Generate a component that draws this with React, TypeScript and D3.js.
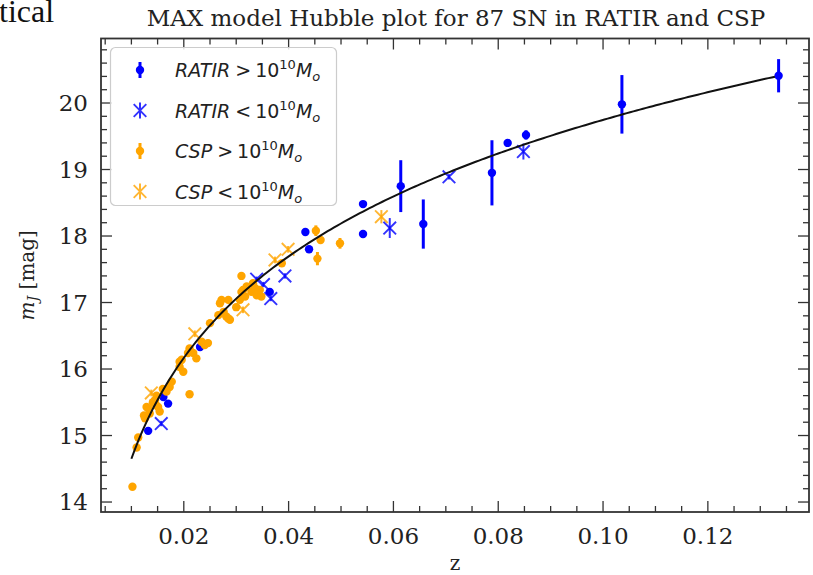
import React from "react";
import * as d3 from "d3";

// RATIR, host mass > 1e10 Msun (filled circles with error bars)
const ratirHiZ = [0.0132, 0.0161, 0.0170, 0.0231, 0.0364, 0.0432, 0.0439, 0.0542, 0.0542, 0.0614, 0.0657, 0.0788, 0.0818, 0.0853, 0.1036, 0.1335];
const ratirHiM = [15.07, 15.58, 15.48, 16.33, 17.16, 18.06, 17.80, 18.48, 18.03, 18.75, 18.18, 18.95, 19.40, 19.52, 19.98, 20.41];
const ratirHiErr = [0.05, 0.05, 0.05, 0.05, 0.05, 0.04, 0.04, 0.04, 0.04, 0.39, 0.37, 0.49, 0.04, 0.07, 0.44, 0.25];

// RATIR, host mass < 1e10 Msun (crosses)
const ratirLoZ = [0.0157, 0.0339, 0.0352, 0.0366, 0.0393, 0.0593, 0.0706, 0.0848];
const ratirLoM = [15.18, 17.35, 17.27, 17.06, 17.40, 18.12, 18.89, 19.27];
const ratirLoErr = [0.04, 0.04, 0.04, 0.04, 0.04, 0.15, 0.04, 0.12];

// CSP, host mass > 1e10 Msun
const cspHiZ = [
  0.0102, 0.0110, 0.0113, 0.0126, 0.0129, 0.0135, 0.0145, 0.0151, 0.0154, 0.0167,
  0.0173, 0.0177, 0.0192, 0.0192, 0.0196, 0.0199, 0.0208, 0.0211, 0.0211, 0.0218,
  0.0224, 0.0234, 0.0246, 0.0250, 0.0266, 0.0269, 0.0272, 0.0281, 0.0285, 0.0288,
  0.0285, 0.0307, 0.0310, 0.0310, 0.0313, 0.0317, 0.0320, 0.0329, 0.0332, 0.0339,
  0.0345, 0.0348, 0.0387, 0.0452, 0.0455, 0.0461, 0.0498, 0.0141, 0.0148, 0.0160,
  0.0133, 0.0147, 0.0124, 0.0300, 0.0276, 0.0240, 0.0336,
];
const cspHiM = [
  14.23, 14.82, 14.97, 15.26, 15.43, 15.33, 15.53, 15.43, 15.36, 15.66,
  15.73, 15.81, 16.11, 16.03, 16.14, 15.96, 16.24, 16.31, 15.62, 16.24,
  16.16, 16.41, 16.39, 16.69, 16.81, 16.99, 17.04, 16.79, 16.76, 16.74,
  17.04, 17.04, 17.40, 17.16, 17.19, 17.09, 17.24, 17.16, 17.29, 17.11,
  17.19, 17.09, 17.59, 18.08, 17.66, 17.94, 17.89, 15.50, 15.60, 15.70,
  15.40, 15.46, 15.30, 16.93, 16.86, 16.36, 17.22,
];
const cspHiErr = [
  0.05, 0.05, 0.05, 0.05, 0.05, 0.05, 0.05, 0.05, 0.05, 0.05,
  0.05, 0.05, 0.05, 0.05, 0.05, 0.05, 0.05, 0.05, 0.05, 0.05,
  0.05, 0.05, 0.05, 0.05, 0.05, 0.05, 0.05, 0.05, 0.05, 0.05,
  0.05, 0.05, 0.05, 0.05, 0.05, 0.05, 0.05, 0.05, 0.05, 0.05,
  0.05, 0.05, 0.05, 0.08, 0.10, 0.05, 0.08, 0.05, 0.05, 0.05,
  0.05, 0.05, 0.05, 0.05, 0.05, 0.05, 0.05,
];

// CSP, host mass < 1e10 Msun
const cspLoZ = [0.0138, 0.0221, 0.0313, 0.0374, 0.0399, 0.0577];
const cspLoM = [15.64, 16.53, 16.89, 17.64, 17.80, 18.29];
const cspLoErr = [0.05, 0.05, 0.05, 0.05, 0.05, 0.10];

// Hubble-law model: m = ZP + 5 log10( z (1 + A z) )
const MODEL_ZP = 24.64;
const MODEL_A = 0.5;
const MODEL_Z_RANGE = [0.0100, 0.1328];

const xTickValues = [0.02, 0.04, 0.06, 0.08, 0.10, 0.12];
const xTickLabels = ["0.02", "0.04", "0.06", "0.08", "0.10", "0.12"];
const yTickValues = [14, 15, 16, 17, 18, 19, 20];
const yTickLabels = ["14", "15", "16", "17", "18", "19", "20"];

const TITLE = "MAX model Hubble plot for 87 SN in RATIR and CSP";

const W = 813;
const H = 575;
const L = 101, R = 809, T = 38.5, B = 512;

const BLUE = "#0000ff";
const ORANGE = "#ffa500";
const SERIF = "'DejaVu Serif', serif";
const SANS = "'DejaVu Sans', sans-serif";
const DOT_R = 4.2;

const x = d3.scaleLinear().domain([0.0042, 0.1393]).range([L, R]);
const y = d3.scaleLinear().domain([13.85, 20.97]).range([B, T]);

function zip(zs: number[], ms: number[], es: number[]) {
  return zs.map((z, i) => ({ z, m: ms[i], e: es[i] }));
}

const ratirHi = zip(ratirHiZ, ratirHiM, ratirHiErr);
const ratirLo = zip(ratirLoZ, ratirLoM, ratirLoErr);
const cspHi = zip(cspHiZ, cspHiM, cspHiErr);
const cspLo = zip(cspLoZ, cspLoM, cspLoErr);

const modelZ = d3.range(MODEL_Z_RANGE[0], MODEL_Z_RANGE[1] + 1e-9, (MODEL_Z_RANGE[1] - MODEL_Z_RANGE[0]) / 200);
const modelLine = d3
  .line<number>()
  .x((z) => x(z))
  .y((z) => y(MODEL_ZP + 5 * Math.log10(z * (1 + MODEL_A * z))));

type Pt = { z: number; m: number; e: number };

function ErrBars({ data, color, width }: { data: Pt[]; color: string; width: number }) {
  return (
    <g stroke={color} strokeWidth={width}>
      {data.map((d, i) => (
        <line key={i} x1={x(d.z)} x2={x(d.z)} y1={y(d.m - d.e)} y2={y(d.m + d.e)} />
      ))}
    </g>
  );
}

function Dots({ data, color }: { data: Pt[]; color: string }) {
  return (
    <g fill={color}>
      {data.map((d, i) => (
        <circle key={i} cx={x(d.z)} cy={y(d.m)} r={DOT_R} />
      ))}
    </g>
  );
}

function Cross({ cx, cy, color, s = 6.3 }: { cx: number; cy: number; color: string; s?: number }) {
  return (
    <path
      d={`M${cx - s},${cy - s}L${cx + s},${cy + s}M${cx - s},${cy + s}L${cx + s},${cy - s}`}
      stroke={color}
      strokeWidth={1.9}
      fill="none"
    />
  );
}

function Crosses({ data, color }: { data: Pt[]; color: string }) {
  return (
    <g opacity={0.8}>
      {data.map((d, i) => (
        <Cross key={i} cx={x(d.z)} cy={y(d.m)} color={color} />
      ))}
    </g>
  );
}

function MathLabel({ name, rel, xPos, yPos }: { name: string; rel: string; xPos: number; yPos: number }) {
  return (
    <text x={xPos} y={yPos} fontFamily={SANS} fontSize={19} fill="#222">
      <tspan fontStyle="italic">{name}</tspan>
      <tspan dx={5}>{rel}</tspan>
      <tspan dx={4}>10</tspan>
      <tspan fontSize={13} dy={-8}>10</tspan>
      <tspan fontStyle="italic" dy={8}>M</tspan>
      <tspan fontStyle="italic" fontSize={13} dy={4}>o</tspan>
    </text>
  );
}

export default function App() {
  const xMinor = d3.range(0.005, 0.1393, 0.005).filter((v) => xTickValues.every((t) => Math.abs(t - v) > 1e-6));
  const yMinor = d3.range(14, 21.0, 0.2).filter((v) => v < 20.97 && Math.abs(v - Math.round(v)) > 1e-6);
  const MAJ = 11;
  const MIN = 6;
  const tickColor = "#333";

  const legendRows = [
    { name: "RATIR", rel: ">", color: BLUE, kind: "dot" },
    { name: "RATIR", rel: "<", color: BLUE, kind: "x" },
    { name: "CSP", rel: ">", color: ORANGE, kind: "dot" },
    { name: "CSP", rel: "<", color: ORANGE, kind: "x" },
  ];

  return (
    <svg
      width={W}
      height={H}
      viewBox={`0 0 ${W} ${H}`}
      style={{ position: "absolute", left: 0, top: 0, background: "#fff" }}
    >
      <rect width={W} height={H} fill="#fff" />
      <text x={-1} y={22} fontFamily="'Liberation Serif', serif" fontSize={32} fill="#111">tical</text>

      <text x={(L + R) / 2 + 1} y={26} textAnchor="middle" fontFamily={SERIF} fontSize={23} fill="#222">
        {TITLE}
      </text>

      {/* data */}
      <ErrBars data={ratirHi} color={BLUE} width={3} />
      <Dots data={ratirHi} color={BLUE} />
      <g opacity={0.8}>
        <ErrBars data={ratirLo} color={BLUE} width={2} />
      </g>
      <Crosses data={ratirLo} color={BLUE} />
      <ErrBars data={cspHi} color={ORANGE} width={3} />
      <Dots data={cspHi} color={ORANGE} />
      <g opacity={0.8}>
        <ErrBars data={cspLo} color={ORANGE} width={2} />
      </g>
      <Crosses data={cspLo} color={ORANGE} />

      <path d={modelLine(modelZ) || ""} fill="none" stroke="#111" strokeWidth={2} />

      {/* frame */}
      <rect x={L} y={T} width={R - L} height={B - T} fill="none" stroke="#333" strokeWidth={1.8} />

      {/* ticks */}
      <g stroke={tickColor} strokeWidth={1.3}>
        {xTickValues.map((v, i) => (
          <g key={"xm" + i}>
            <line x1={x(v)} x2={x(v)} y1={B} y2={B - MAJ} />
            <line x1={x(v)} x2={x(v)} y1={T} y2={T + MAJ} />
          </g>
        ))}
        {xMinor.map((v, i) => (
          <g key={"xn" + i}>
            <line x1={x(v)} x2={x(v)} y1={B} y2={B - MIN} />
            <line x1={x(v)} x2={x(v)} y1={T} y2={T + MIN} />
          </g>
        ))}
        {yTickValues.map((v, i) => (
          <g key={"ym" + i}>
            <line x1={L} x2={L + MAJ} y1={y(v)} y2={y(v)} />
            <line x1={R} x2={R - MAJ} y1={y(v)} y2={y(v)} />
          </g>
        ))}
        {yMinor.map((v, i) => (
          <g key={"yn" + i}>
            <line x1={L} x2={L + MIN} y1={y(v)} y2={y(v)} />
            <line x1={R} x2={R - MIN} y1={y(v)} y2={y(v)} />
          </g>
        ))}
      </g>

      {/* tick labels */}
      <g fontFamily={SERIF} fontSize={23} fill="#222">
        {xTickValues.map((v, i) => (
          <text key={"xl" + i} x={x(v)} y={B + 32} textAnchor="middle">
            {xTickLabels[i]}
          </text>
        ))}
        {yTickValues.map((v, i) => (
          <text key={"yl" + i} x={L - 13} y={y(v) + 8} textAnchor="end">
            {yTickLabels[i]}
          </text>
        ))}
      </g>

      {/* axis labels */}
      <text x={(L + R) / 2} y={570} textAnchor="middle" fontFamily={SERIF} fontSize={20} fill="#222">
        z
      </text>
      <text
        transform={`translate(34,${(T + B) / 2}) rotate(-90)`}
        textAnchor="middle"
        fontFamily={SERIF}
        fontSize={20}
        fill="#222"
      >
        <tspan fontStyle="italic">m</tspan>
        <tspan fontStyle="italic" fontSize={14} dy={4}>J</tspan>
        <tspan dy={-4}> [mag]</tspan>
      </text>

      {/* legend */}
      <rect x={110.5} y={47.5} width={226} height={158} rx={5} fill="#fff" fillOpacity={0.85} stroke="#ccc" strokeWidth={1.2} />
      {legendRows.map((r, i) => {
        const cy = 70 + i * 40.5;
        const hx = 140;
        return (
          <g key={"lg" + i}>
            {r.kind === "dot" ? (
              <g>
                <line x1={hx} x2={hx} y1={cy - 8} y2={cy + 8} stroke={r.color} strokeWidth={3} />
                <circle cx={hx} cy={cy} r={DOT_R} fill={r.color} />
              </g>
            ) : (
              <g opacity={0.8}>
                <line x1={hx} x2={hx} y1={cy - 8} y2={cy + 8} stroke={r.color} strokeWidth={2} />
                <Cross cx={hx} cy={cy} color={r.color} />
              </g>
            )}
            <MathLabel name={r.name} rel={r.rel} xPos={175} yPos={cy + 7} />
          </g>
        );
      })}
    </svg>
  );
}
